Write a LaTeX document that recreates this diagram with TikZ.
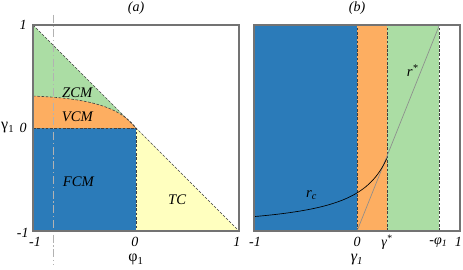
\documentclass[tikz,border=0pt]{standalone}
\usepackage{fontspec}
\setmainfont{Liberation Serif}
\definecolor{fcmblue}{HTML}{2B7BB9}
\definecolor{vcmorange}{HTML}{FDAE61}
\definecolor{zcmgreen}{HTML}{ABDDA4}
\definecolor{tcyellow}{HTML}{FFFFBF}
\tikzset{
  bound/.style={dash pattern=on 2pt off 1.2pt,black!75,line width=0.45pt},
  frame/.style={draw=black!55,line width=1pt},
  lab/.style={font=\fontsize{11}{13}\selectfont\itshape,inner sep=0pt},
  tick/.style={font=\fontsize{10.5}{12}\selectfont\itshape,inner sep=0pt},
  axlab/.style={font=\fontsize{12}{14}\selectfont,inner sep=0pt}
}
\begin{document}
\begin{tikzpicture}[x=0.75pt,y=0.75pt]
  \useasboundingbox (0,0) rectangle (463,269);

  % (a) phase diagram in the (phi_1, gamma_1) plane
  \begin{scope}[shift={(136,141)},x=77.25pt,y=77.25pt]
    \fill[tcyellow] (0,0) -- (0,-1) -- (1,-1) -- cycle;
    \fill[fcmblue] (-1,-1) rectangle (0,0);
    \fill[zcmgreen] (-1,1) -- (-1,0) -- (0,0) -- cycle;
    \fill[vcmorange] (-1,0) -- (-1,0.31) .. controls (-0.45,0.29) and (-0.15,0.2) .. (0,0) -- cycle;
    \draw[bound] (-1,0.31) .. controls (-0.45,0.29) and (-0.15,0.2) .. (0,0);
    \draw[bound] (-1,0) -- (0,0) -- (0,-1);
    \draw[bound] (-1,1) -- (1,-1);
    \draw[black!30,line width=0.4pt,dash pattern=on 6pt off 2pt on 1pt off 2pt] (-0.8,1.1) -- (-0.8,-1.33);
    \draw[frame] (-1,-1) rectangle (1,1);

    \node[lab] (zcm) at (-0.57,0.34) {ZCM};
    \node[lab] (vcm) at (-0.57,0.107) {VCM};
    \node[lab] (fcm) at (-0.56,-0.52) {FCM};
    \node[lab] (tc) at (0.40,-0.70) {TC};

    \node[tick,anchor=east] (ya1) at (-1.06,1) {1};
    \node[tick,anchor=east] (ya0) at (-1.06,0) {0};
    \node[tick,anchor=east] (yam) at (-1.04,-1.02) {-1};
    \node[axlab] (yalab) at (-1.245,0) {γ\textsubscript{1}};
    \node[tick] (xam) at (-0.98,-1.11) {-1};
    \node[tick] (xa0) at (-0.01,-1.11) {0};
    \node[tick] (xa1) at (0.98,-1.11) {1};
    \node[axlab] (xalab) at (0,-1.28) {φ\textsubscript{1}};
    \node[tick] (titlea) at (0,1.165) {(a)};
  \end{scope}

  % (b) slice at phi_1 = -0.8
  \begin{scope}[shift={(357,141)},x=77.25pt,y=77.25pt]
    \fill[fcmblue] (-1,-1) rectangle (0,1);
    \fill[vcmorange] (0,-1) rectangle (0.29,1);
    \fill[zcmgreen] (0.29,-1) rectangle (0.8,1);
    \draw[bound] (0,-1) -- (0,1);
    \draw[bound] (0.29,-1) -- (0.29,1);
    \draw[bound] (0.8,-1) -- (0.8,1);
    \draw[black!45,line width=0.5pt] (0,-1) -- (0.8,1);
    \draw[black,line width=0.5pt] plot[domain=-1:0.29,samples=60,smooth] (\x,{-1+0.2252/(0.609-\x)});
    \draw[frame] (-1,-1) rectangle (1,1);

    \node[lab] (rc) at (-0.44,-0.65) {r\textsubscript{c}};
    \node[lab] (rstar) at (0.54,0.56) {r\textsuperscript{*}};

    \node[tick] (xbm) at (-0.99,-1.11) {-1};
    \node[tick] (xb0) at (0,-1.11) {0};
    \node[tick] (xbg) at (0.29,-1.11) {γ\textsuperscript{*}};
    \node[tick] (xbp) at (0.79,-1.11) {-φ\textsubscript{1}};
    \node[tick] (xb1) at (0.985,-1.11) {1};
    \node[axlab,font=\fontsize{12}{14}\selectfont\itshape] (xblab) at (0,-1.28) {γ\textsubscript{1}};
    \node[tick] (titleb) at (0,1.165) {(b)};
  \end{scope}
\end{tikzpicture}
\end{document}
